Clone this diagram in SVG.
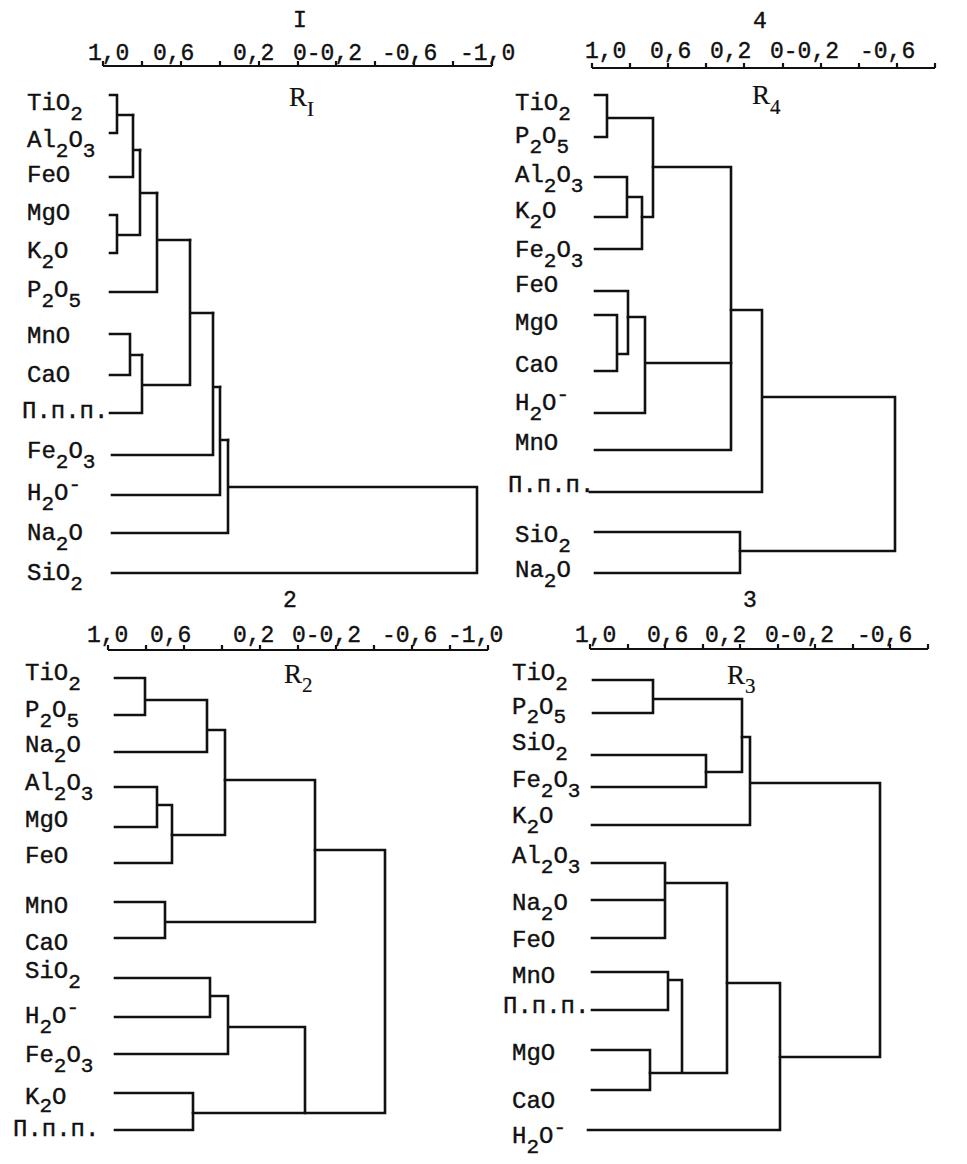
<svg xmlns="http://www.w3.org/2000/svg" width="967" height="1164" viewBox="0 0 967 1164">
<style>
text{font-family:"Liberation Mono","DejaVu Sans Mono",monospace;fill:#111;stroke:#111;stroke-width:0.4}
.l{font-size:24px}
.s{font-size:21px}
.ax{font-size:23px}
.t{font-size:23px}
.r{font-family:"Liberation Serif","DejaVu Serif",serif;font-size:27px;stroke-width:0.2}
.r tspan{font-size:21px}
.c path{fill:none;stroke:#111;stroke-width:2.6;stroke-linejoin:miter;stroke-linecap:square}
.axl{fill:none;stroke:#111;stroke-width:2.2}
</style>
<rect width="967" height="1164" fill="#fff"/>

<!-- ===== Panel I ===== -->
<g id="panel1-axis">
<text class="t" x="300" y="27" text-anchor="middle">I</text>
<text class="ax" y="60"><tspan x="88">1,0</tspan><tspan x="153">0,6</tspan><tspan x="233">0,2</tspan><tspan x="293">0-0,2</tspan><tspan x="382">-0,6</tspan><tspan x="460">-1,0</tspan></text>
<path class="axl" d="M103,66H492M103,66v-5M142,66v-5M181,66v-5M220,66v-5M259,66v-5M298,66v-5M336,66v-5M375,66v-5M414,66v-5M453,66v-5M492,66v-5"/>
<text class="r" x="289" y="106">R<tspan dy="10">I</tspan></text>
</g>
<g id="p1-TiO2"><text class="l" x="27" y="110">TiO<tspan class="s" dy="10">2</tspan></text></g>
<g id="p1-Al2O3"><text class="l" x="27" y="147">Al<tspan class="s" dy="10">2</tspan><tspan dy="-10">O</tspan><tspan class="s" dy="10">3</tspan></text></g>
<g id="p1-FeO"><text class="l" x="27" y="182">FeO</text></g>
<g id="p1-MgO"><text class="l" x="27" y="220">MgO</text></g>
<g id="p1-K2O"><text class="l" x="27" y="258">K<tspan class="s" dy="10">2</tspan><tspan dy="-10">O</tspan></text></g>
<g id="p1-P2O5"><text class="l" x="27" y="297">P<tspan class="s" dy="10">2</tspan><tspan dy="-10">O</tspan><tspan class="s" dy="10">5</tspan></text></g>
<g id="p1-MnO"><text class="l" x="27" y="343">MnO</text></g>
<g id="p1-CaO"><text class="l" x="27" y="382">CaO</text></g>
<g id="p1-ppp"><text class="l" x="22" y="418">П.п.п.</text></g>
<g id="p1-Fe2O3"><text class="l" x="27" y="458">Fe<tspan class="s" dy="10">2</tspan><tspan dy="-10">O</tspan><tspan class="s" dy="10">3</tspan></text></g>
<g id="p1-H2O"><text class="l" x="27" y="500">H<tspan class="s" dy="10">2</tspan><tspan dy="-10">O</tspan><tspan class="s" dy="-9">-</tspan></text></g>
<g id="p1-Na2O"><text class="l" x="27" y="540">Na<tspan class="s" dy="10">2</tspan><tspan dy="-10">O</tspan></text></g>
<g id="p1-SiO2"><text class="l" x="27" y="580">SiO<tspan class="s" dy="10">2</tspan></text></g>
<g id="p1-connectors" class="c">
<path d="M110,95H117V133H110M117,115H133"/>
<path d="M110,177H133V115M133,150H140"/>
<path d="M110,215H117V253H110M117,235H140V150M140,193H157"/>
<path d="M110,292H157V193M157,240H190"/>
<path d="M110,334H130V375H110M130,355H142"/>
<path d="M110,413H142V355M142,385H190V240M190,313H213"/>
<path d="M112,455H213V313M213,387H220"/>
<path d="M112,495H220V387M220,440H228"/>
<path d="M112,533H228V440M228,487H477V573H112"/>
</g>

<!-- ===== Panel 4 ===== -->
<g id="panel4-axis">
<text class="t" x="760" y="28" text-anchor="middle">4</text>
<text class="ax" y="58"><tspan x="585">1,0</tspan><tspan x="650">0,6</tspan><tspan x="710">0,2</tspan><tspan x="770">0-0,2</tspan><tspan x="860">-0,6</tspan></text>
<path class="axl" d="M592,68H935M592,68v-5M630,68v-5M668,68v-5M706,68v-5M744,68v-5M783,68v-5M821,68v-5M859,68v-5M897,68v-5M935,68v-5"/>
<text class="r" x="752" y="104">R<tspan dy="10">4</tspan></text>
</g>
<g id="p4-TiO2"><text class="l" x="515" y="110">TiO<tspan class="s" dy="10">2</tspan></text></g>
<g id="p4-P2O5"><text class="l" x="515" y="143">P<tspan class="s" dy="10">2</tspan><tspan dy="-10">O</tspan><tspan class="s" dy="10">5</tspan></text></g>
<g id="p4-Al2O3"><text class="l" x="515" y="182">Al<tspan class="s" dy="10">2</tspan><tspan dy="-10">O</tspan><tspan class="s" dy="10">3</tspan></text></g>
<g id="p4-K2O"><text class="l" x="515" y="218">K<tspan class="s" dy="10">2</tspan><tspan dy="-10">O</tspan></text></g>
<g id="p4-Fe2O3"><text class="l" x="515" y="257">Fe<tspan class="s" dy="10">2</tspan><tspan dy="-10">O</tspan><tspan class="s" dy="10">3</tspan></text></g>
<g id="p4-FeO"><text class="l" x="515" y="292">FeO</text></g>
<g id="p4-MgO"><text class="l" x="515" y="330">MgO</text></g>
<g id="p4-CaO"><text class="l" x="515" y="372">CaO</text></g>
<g id="p4-H2O"><text class="l" x="515" y="410">H<tspan class="s" dy="10">2</tspan><tspan dy="-10">O</tspan><tspan class="s" dy="-9">-</tspan></text></g>
<g id="p4-MnO"><text class="l" x="515" y="450">MnO</text></g>
<g id="p4-ppp"><text class="l" x="508" y="492">П.п.п.</text></g>
<g id="p4-SiO2"><text class="l" x="515" y="542">SiO<tspan class="s" dy="10">2</tspan></text></g>
<g id="p4-Na2O"><text class="l" x="515" y="577">Na<tspan class="s" dy="10">2</tspan><tspan dy="-10">O</tspan></text></g>
<g id="p4-connectors" class="c">
<path d="M595,95H607V137H595M607,118H653V217H642"/>
<path d="M595,177H627V217H595M627,197H642V249H595"/>
<path d="M653,167H731V450H595"/>
<path d="M595,291H628V354H617M595,315H617V371H595"/>
<path d="M628,317H645V413H595M645,363H731"/>
<path d="M731,310H762V492H590M762,397H895V551H740"/>
<path d="M595,532H740V573H595"/>
</g>

<!-- ===== Panel 2 ===== -->
<g id="panel2-axis">
<text class="t" x="290" y="607" text-anchor="middle">2</text>
<text class="ax" y="642"><tspan x="87">1,0</tspan><tspan x="150">0,6</tspan><tspan x="233">0,2</tspan><tspan x="292">0-0,2</tspan><tspan x="382">-0,6</tspan><tspan x="448">-1,0</tspan></text>
<path class="axl" d="M108,650H488M108,650v-5M146,650v-5M184,650v-5M222,650v-5M260,650v-5M298,650v-5M336,650v-5M374,650v-5M412,650v-5M450,650v-5M488,650v-5"/>
<text class="r" x="284" y="683">R<tspan dy="9">2</tspan></text>
</g>
<g id="p2-TiO2"><text class="l" x="25" y="680">TiO<tspan class="s" dy="10">2</tspan></text></g>
<g id="p2-P2O5"><text class="l" x="25" y="717">P<tspan class="s" dy="10">2</tspan><tspan dy="-10">O</tspan><tspan class="s" dy="10">5</tspan></text></g>
<g id="p2-Na2O"><text class="l" x="25" y="752">Na<tspan class="s" dy="10">2</tspan><tspan dy="-10">O</tspan></text></g>
<g id="p2-Al2O3"><text class="l" x="25" y="790">Al<tspan class="s" dy="10">2</tspan><tspan dy="-10">O</tspan><tspan class="s" dy="10">3</tspan></text></g>
<g id="p2-MgO"><text class="l" x="25" y="827">MgO</text></g>
<g id="p2-FeO"><text class="l" x="25" y="863">FeO</text></g>
<g id="p2-MnO"><text class="l" x="25" y="913">MnO</text></g>
<g id="p2-CaO"><text class="l" x="25" y="950">CaO</text></g>
<g id="p2-SiO2"><text class="l" x="25" y="978">SiO<tspan class="s" dy="10">2</tspan></text></g>
<g id="p2-H2O"><text class="l" x="25" y="1023">H<tspan class="s" dy="10">2</tspan><tspan dy="-10">O</tspan><tspan class="s" dy="-9">-</tspan></text></g>
<g id="p2-Fe2O3"><text class="l" x="25" y="1062">Fe<tspan class="s" dy="10">2</tspan><tspan dy="-10">O</tspan><tspan class="s" dy="10">3</tspan></text></g>
<g id="p2-K2O"><text class="l" x="25" y="1104">K<tspan class="s" dy="8">2</tspan><tspan dy="-8">O</tspan></text></g>
<g id="p2-ppp"><text class="l" x="13" y="1136">П.п.п.</text></g>
<g id="p2-connectors" class="c">
<path d="M115,678H145V715H115M145,700H207V752H115M207,730H225V835H172"/>
<path d="M115,787H157V827H115M157,805H172V863H115"/>
<path d="M225,780H315V922H165M115,902H165V938H115"/>
<path d="M315,850H385V1113H193"/>
<path d="M115,978H210V1017H115M210,996H228V1054H115M228,1027H305V1113"/>
<path d="M115,1093H193V1130H115"/>
</g>

<!-- ===== Panel 3 ===== -->
<g id="panel3-axis">
<text class="t" x="750" y="607" text-anchor="middle">3</text>
<text class="ax" y="642"><tspan x="575">1,0</tspan><tspan x="647">0,6</tspan><tspan x="705">0,2</tspan><tspan x="765">0-0,2</tspan><tspan x="857">-0,6</tspan></text>
<path class="axl" d="M590,649H928M590,649v-5M628,649v-5M665,649v-5M703,649v-5M740,649v-5M778,649v-5M815,649v-5M853,649v-5M890,649v-5M928,649v-5"/>
<text class="r" x="727" y="684">R<tspan dy="9">3</tspan></text>
</g>
<g id="p3-TiO2"><text class="l" x="512" y="680">TiO<tspan class="s" dy="10">2</tspan></text></g>
<g id="p3-P2O5"><text class="l" x="512" y="714">P<tspan class="s" dy="9">2</tspan><tspan dy="-9">O</tspan><tspan class="s" dy="9">5</tspan></text></g>
<g id="p3-SiO2"><text class="l" x="512" y="750">SiO<tspan class="s" dy="10">2</tspan></text></g>
<g id="p3-Fe2O3"><text class="l" x="512" y="787">Fe<tspan class="s" dy="10">2</tspan><tspan dy="-10">O</tspan><tspan class="s" dy="10">3</tspan></text></g>
<g id="p3-K2O"><text class="l" x="512" y="823">K<tspan class="s" dy="10">2</tspan><tspan dy="-10">O</tspan></text></g>
<g id="p3-Al2O3"><text class="l" x="512" y="863">Al<tspan class="s" dy="10">2</tspan><tspan dy="-10">O</tspan><tspan class="s" dy="10">3</tspan></text></g>
<g id="p3-Na2O"><text class="l" x="512" y="910">Na<tspan class="s" dy="10">2</tspan><tspan dy="-10">O</tspan></text></g>
<g id="p3-FeO"><text class="l" x="512" y="947">FeO</text></g>
<g id="p3-MnO"><text class="l" x="512" y="983">MnO</text></g>
<g id="p3-ppp"><text class="l" x="503" y="1013">П.п.п.</text></g>
<g id="p3-MgO"><text class="l" x="512" y="1060">MgO</text></g>
<g id="p3-CaO"><text class="l" x="512" y="1108">CaO</text></g>
<g id="p3-H2O"><text class="l" x="512" y="1143">H<tspan class="s" dy="10">2</tspan><tspan dy="-10">O</tspan><tspan class="s" dy="-9">-</tspan></text></g>
<g id="p3-connectors" class="c">
<path d="M593,680H653V713H593M653,699H742V772H706"/>
<path d="M592,755H706V787H592"/>
<path d="M742,737H750V825H592M750,783H880V1057H780"/>
<path d="M592,863H665V938H592M592,900H665M665,883H727V1073H650"/>
<path d="M592,972H668V1010H592M668,980H682V1072"/>
<path d="M592,1050H650V1090H592"/>
<path d="M727,983H780V1130H588"/>
</g>
</svg>
